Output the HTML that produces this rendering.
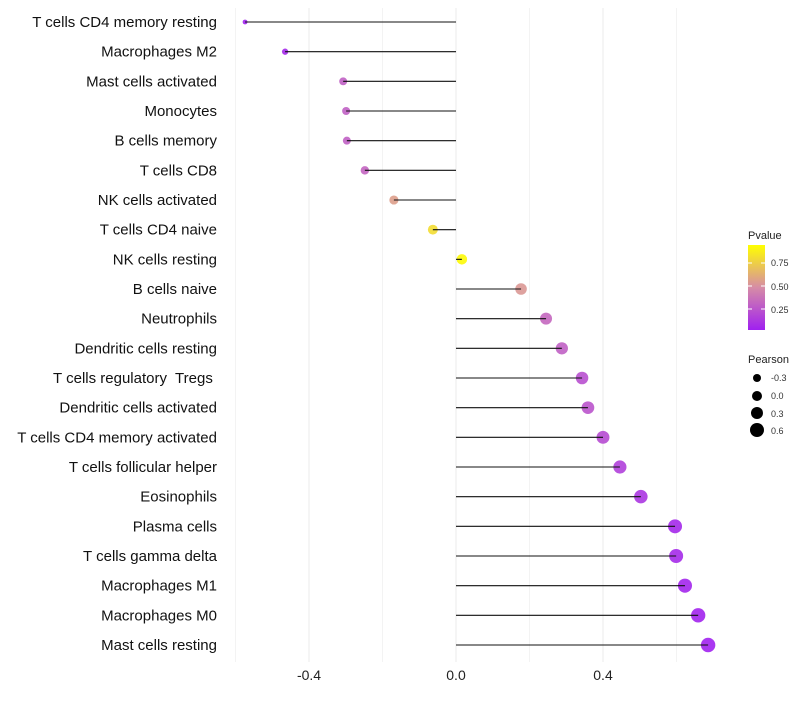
<!DOCTYPE html>
<html><head><meta charset="utf-8"><style>
body{margin:0;background:#fff;}
text{font-family:"Liberation Sans",sans-serif;white-space:pre;}
</style></head><body>
<svg id="chart" width="800" height="700" xmlns="http://www.w3.org/2000/svg">
<defs><linearGradient id="pg" x1="0" y1="1" x2="0" y2="0">
<stop offset="0" stop-color="#a020f0"/><stop offset="0.5" stop-color="#d68ca6"/><stop offset="1" stop-color="#ffff00"/>
</linearGradient></defs>
<g id="grid"></g><g id="marks"></g><g id="labels"></g><g id="xaxis"></g>
<g>
<text x="748" y="239" font-size="11" fill="#222">Pvalue</text>
<rect x="748" y="245" width="17" height="85" fill="url(#pg)"/>
<line x1="748" y1="263" x2="752" y2="263" stroke="#fff"/><line x1="761" y1="263" x2="765" y2="263" stroke="#fff"/>
<line x1="748" y1="286" x2="752" y2="286" stroke="#fff"/><line x1="761" y1="286" x2="765" y2="286" stroke="#fff"/>
<line x1="748" y1="309" x2="752" y2="309" stroke="#fff"/><line x1="761" y1="309" x2="765" y2="309" stroke="#fff"/>
<text x="771" y="266" font-size="9" fill="#333">0.75</text>
<text x="771" y="290" font-size="9" fill="#333">0.50</text>
<text x="771" y="313" font-size="9" fill="#333">0.25</text>
</g>
<g>
<text x="748" y="363" font-size="11" fill="#222">Pearson</text>
<circle cx="757" cy="378" r="4" fill="#000"/><text x="771" y="381" font-size="9" fill="#333">-0.3</text>
<circle cx="757" cy="396" r="5" fill="#000"/><text x="771" y="399" font-size="9" fill="#333">0.0</text>
<circle cx="757" cy="413" r="6" fill="#000"/><text x="771" y="417" font-size="9" fill="#333">0.3</text>
<circle cx="757" cy="430" r="7" fill="#000"/><text x="771" y="434" font-size="9" fill="#333">0.6</text>
</g>
</svg>
<script>
const categories=["T cells CD4 memory resting","Macrophages M2","Mast cells activated","Monocytes","B cells memory","T cells CD8","NK cells activated","T cells CD4 naive","NK cells resting","B cells naive","Neutrophils","Dendritic cells resting","T cells regulatory  Tregs ","Dendritic cells activated","T cells CD4 memory activated","T cells follicular helper","Eosinophils","Plasma cells","T cells gamma delta","Macrophages M1","Macrophages M0","Mast cells resting"];
const pearson=[-0.574,-0.465,-0.307,-0.299,-0.297,-0.248,-0.169,-0.063,0.016,0.177,0.245,0.288,0.343,0.359,0.40,0.446,0.503,0.596,0.599,0.623,0.659,0.686];
const pvalues=[0.01,0.04,0.3,0.3,0.3,0.32,0.58,0.85,0.98,0.55,0.33,0.3,0.22,0.24,0.2,0.15,0.1,0.04,0.05,0.03,0.02,0.01];
const xTicks=[-0.4,0.0,0.4];
const xGrid=[-0.6,-0.2,0.2,0.6];
const NS="http://www.w3.org/2000/svg";
const xs=v=>456+v*367.5;
const ys=i=>22+i*(645-22)/(categories.length-1);
function col(p){
  const a=[160,32,240],m=[214,140,166],b=[255,255,0];let c0,c1,t;
  if(p<0.5){c0=a;c1=m;t=p/0.5;}else{c0=m;c1=b;t=(p-0.5)/0.5;}
  return "rgb("+c0.map((v,k)=>Math.round(v+(c1[k]-v)*t)).join(",")+")";
}
function mk(tag,attrs,parent){const e=document.createElementNS(NS,tag);for(const k in attrs)e.setAttribute(k,attrs[k]);document.getElementById(parent).appendChild(e);return e;}
xTicks.concat(xGrid).forEach(v=>{
  const l=mk("line",{x1:xs(v),x2:xs(v),y1:8,y2:662,stroke:xTicks.includes(v)?"#ebebeb":"#f3f3f3","stroke-width":1},"grid");
  
  
});
xTicks.forEach(v=>{
  const t=mk("text",{x:xs(v),y:680,"font-size":14,fill:"#222","text-anchor":"middle"},"xaxis");
  t.textContent=v.toFixed(1);
  
  
});
categories.forEach((c,i)=>{
  const y=ys(i);
  const r=Math.sqrt(Math.max(4,27+36.7*pearson[i]));
  const d=mk("circle",{cx:xs(pearson[i]),cy:y,r:r,fill:col(pvalues[i]),"fill-opacity":0.9},"marks");
  
  
  const s=mk("line",{x1:xs(0),x2:xs(pearson[i]),y1:y,y2:y,stroke:"#111","stroke-width":1.1},"marks");
  
  
  const t=mk("text",{x:217,y:y+5,"font-size":15,fill:"#111","text-anchor":"end"},"labels");
  t.textContent=c;
  
  
});
</script>
</body></html>
